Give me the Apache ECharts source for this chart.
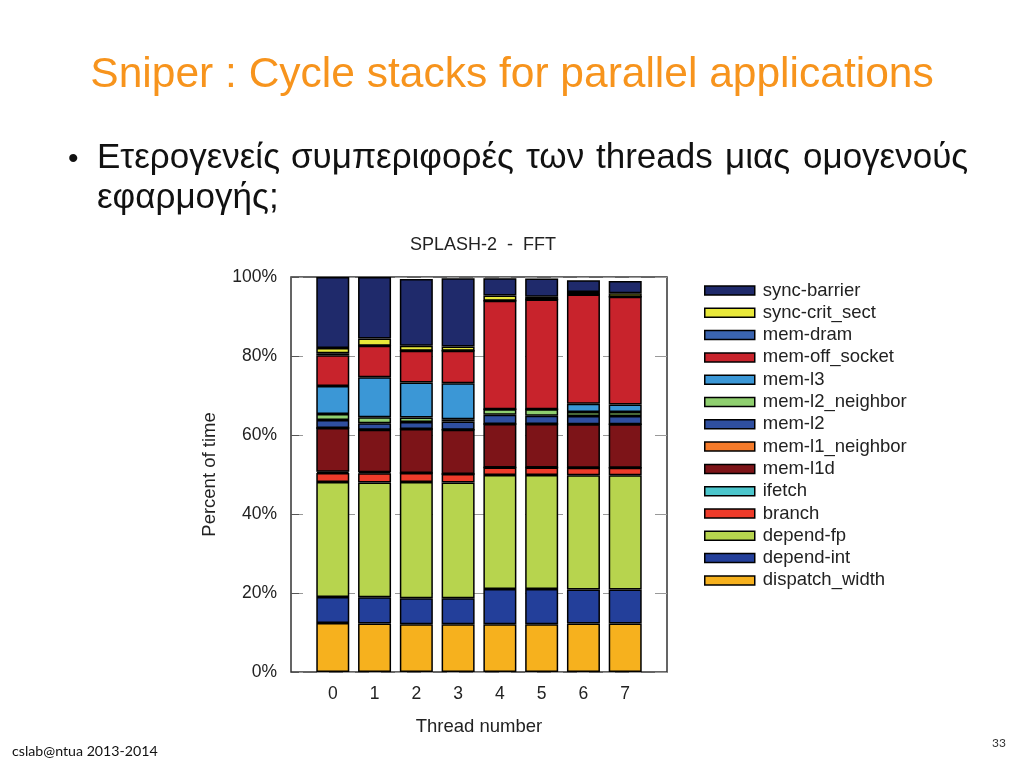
<!DOCTYPE html>
<html>
<head>
<meta charset="utf-8">
<script src="https://cdn.jsdelivr.net/npm/echarts@6/dist/echarts.min.js"></script>
<style>
html,body{margin:0;padding:0;background:#fff;}
#chart{width:1024px;height:768px;}
</style>
</head>
<body>
<div id="chart"></div>
<script>
const threads = ['0','1','2','3','4','5','6','7'];
const yTicks = ['0%','20%','40%','60%','80%','100%'];

// series listed bottom to top of stack
const seriesNames = ['dispatch_width','depend-int','depend-fp','branch','ifetch','mem-l1d','mem-l1_neighbor','mem-l2','mem-l2_neighbor','mem-l3','mem-off_socket','mem-dram','sync-crit_sect','sync-barrier'];
const seriesColors = ['#f6b11e','#233f9a','#b7d44e','#ee3b2a','#4cc6cc','#7d1418','#f47a2a','#2f4fa0','#8fcf6f','#3b97d6','#c8232c','#3a64b0','#e8e83a','#1f2a6b'];

const dispatch_width  = [12.4,12.3,12.1,12.1,12.1,12.1,12.3,12.3];
const depend_int      = [6.6,6.6,6.6,6.6,8.9,8.9,8.6,8.6];
const depend_fp       = [29.1,29.1,29.4,29.3,28.9,28.9,28.9,28.9];
const branch          = [2.3,2.3,2.3,2.1,1.9,1.9,1.9,1.9];
const ifetch          = [0.3,0.3,0,0,0,0,0,0];
const mem_l1d         = [11.1,10.7,11.1,11.2,11.0,11.0,11.0,11.0];
const mem_l1_neighbor = [0,0,0,0,0,0,0,0];
const mem_l2          = [2.0,1.7,1.8,2.1,2.3,2.1,2.1,2.1];
const mem_l2_neighbor = [1.5,1.5,1.1,0.6,1.4,1.6,1.0,1.0];
const mem_l3          = [7.1,10.1,8.9,9.1,0,0,2.1,1.9];
const mem_off_socket  = [7.8,8.0,8.0,8.2,27.5,27.8,27.7,27.3];
const mem_dram        = [0.5,0,0,0,0,0,0,0];
const sync_crit_sect  = [1.3,1.8,1.3,1.1,1.3,0.7,0.6,0.9];
const sync_barrier    = [18.0,15.6,16.9,17.3,4.4,4.6,3.0,3.1];

const seriesValues = [dispatch_width,depend_int,depend_fp,branch,ifetch,mem_l1d,mem_l1_neighbor,mem_l2,mem_l2_neighbor,mem_l3,mem_off_socket,mem_dram,sync_crit_sect,sync_barrier];

// one empty slot on each side of the threads
const xCats = [''].concat(threads, ['']);

const chart = echarts.init(document.getElementById('chart'));
const FONT = '"Liberation Sans", Arial, sans-serif';

const series = seriesNames.map((name, si) => ({
  name: name,
  type: 'bar',
  stack: 'total',
  barWidth: 33,
  itemStyle: {color: seriesColors[si], borderColor: '#000', borderWidth: 1.5},
  emphasis: {disabled: true},
  data: ['-'].concat(seriesValues[si], ['-'])
}));

const words = [
  {t:'Ετερογενείς', x:97},
  {t:'συμπεριφορές', x:291},
  {t:'των', x:526},
  {t:'threads', x:596},
  {t:'μιας', x:725},
  {t:'ομογενούς', x:803}
];

const graphics = [
  {type:'text', left:'center', top:54, style:{text:'Sniper : Cycle stacks for parallel applications', fill:'#f7941d', font:'42.5px ' + FONT}},
  {type:'text', left:68, top:145, style:{text:'•', fill:'#111', font:'30px ' + FONT}},
  {type:'text', left:97, top:181, style:{text:'εφαρμογής;', fill:'#111', font:'35px ' + FONT}},
  {type:'text', left:12, top:744, style:{text:'cslab@ntua 2013-2014', fill:'#111', font:'14.2px Lato, "Open Sans", sans-serif'}},
  {type:'text', left:992, top:737, style:{text:'33', fill:'#333', font:'12px Lato, "Open Sans", sans-serif'}}
].concat(words.map(w => ({type:'text', left:w.x, top:141, style:{text:w.t, fill:'#111', font:'35px ' + FONT}})));

chart.setOption({
  animation: false,
  title: {
    text: 'SPLASH-2  -  FFT',
    left: 478, top: 231, textAlign: 'center',
    textStyle: {fontFamily: FONT, fontSize: 18, fontWeight: 'normal', color: '#222'}
  },
  legend: {
    orient: 'vertical',
    left: 699, top: 276,
    itemWidth: 50, itemHeight: 9, itemGap: 3.3,
    data: seriesNames.slice().reverse(),
    icon: 'rect',
    selectedMode: false,
    textStyle: {fontFamily: FONT, fontSize: 18.5, color: '#222', padding: [0,0,0,3]},
    itemStyle: {borderColor: '#000', borderWidth: 1.5}
  },
  grid: {left: 291, top: 277, width: 376, height: 395, show: true, borderColor: '#333', borderWidth: 1.5, backgroundColor: 'transparent'},
  xAxis: {
    type: 'category', data: xCats, boundaryGap: false,
    name: 'Thread number', nameLocation: 'middle', nameGap: 45,
    nameTextStyle: {fontFamily: FONT, fontSize: 18.5, color: '#222'},
    axisLine: {show: false}, axisTick: {show: false}, splitLine: {show: false},
    axisLabel: {fontFamily: FONT, fontSize: 17.5, color: '#222', margin: 13, interval: 0}
  },
  yAxis: {
    type: 'value', min: 0, max: 100, interval: 20,
    name: 'Percent of time', nameLocation: 'middle', nameGap: 72, nameRotate: 90,
    nameTextStyle: {fontFamily: FONT, fontSize: 18.5, color: '#222'},
    axisLine: {show: false},
    axisTick: {show: true, inside: true, length: 8, lineStyle: {color: '#555'}},
    splitLine: {show: true, lineStyle: {color: '#999', type: [12, 14], width: 1}},
    axisLabel: {fontFamily: FONT, fontSize: 17.5, color: '#222', margin: 14,
      formatter: v => yTicks[v / 20]}
  },
  series: series,
  graphic: graphics
});
</script>
</body>
</html>
